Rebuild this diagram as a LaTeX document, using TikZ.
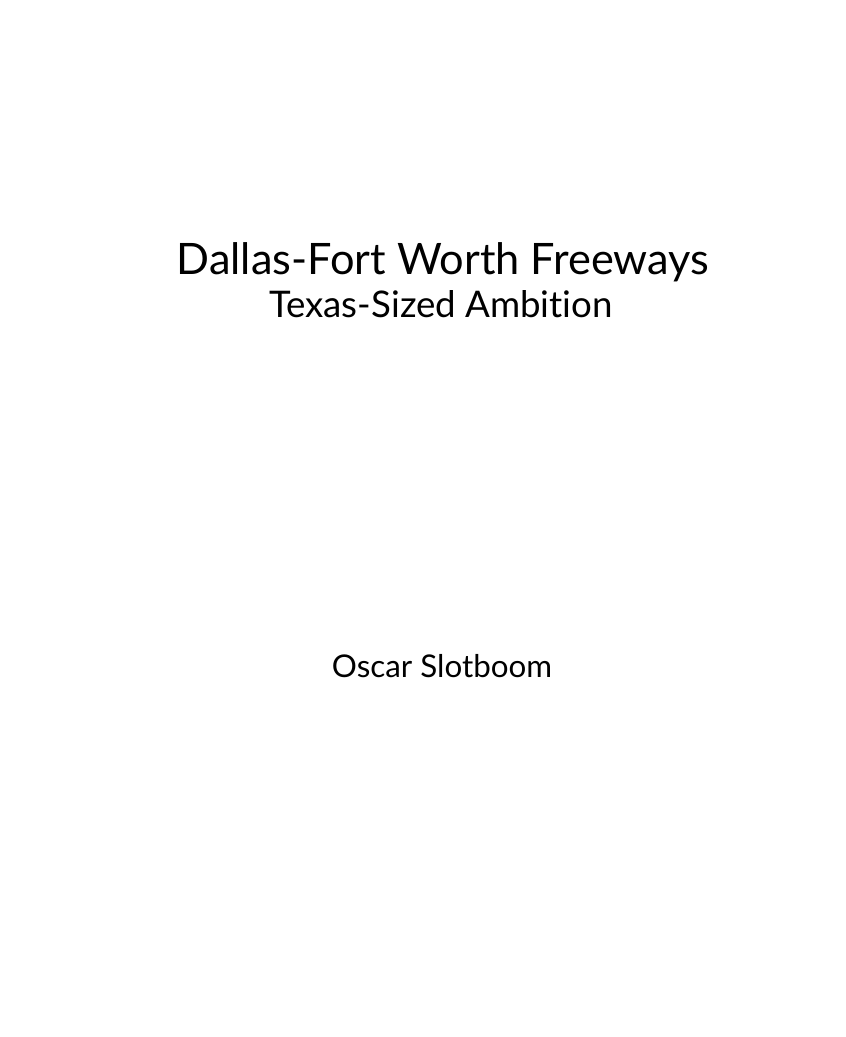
\documentclass[tikz,border=0pt]{standalone}
\usepackage{fontspec}
\setmainfont[Ligatures=NoCommon]{Lato}
\begin{document}
\begin{tikzpicture}[x=0.75pt,y=-0.75pt,
  txt/.style={anchor=base,inner sep=0pt,text=black}]
\useasboundingbox[fill=white] (0,0) rectangle (845,1037);
\node[txt,font=\fontsize{32.5}{38}\selectfont] (title) at (443,275) {Dallas-Fort Worth Freeways};
\node[txt,font=\fontsize{27.5}{32}\selectfont] (sub) at (441,317) {Texas-Sized Ambition};
\node[txt,font=\fontsize{23.5}{28}\selectfont] (author) at (442,677) {Oscar Slotboom};
\end{tikzpicture}
\end{document}
